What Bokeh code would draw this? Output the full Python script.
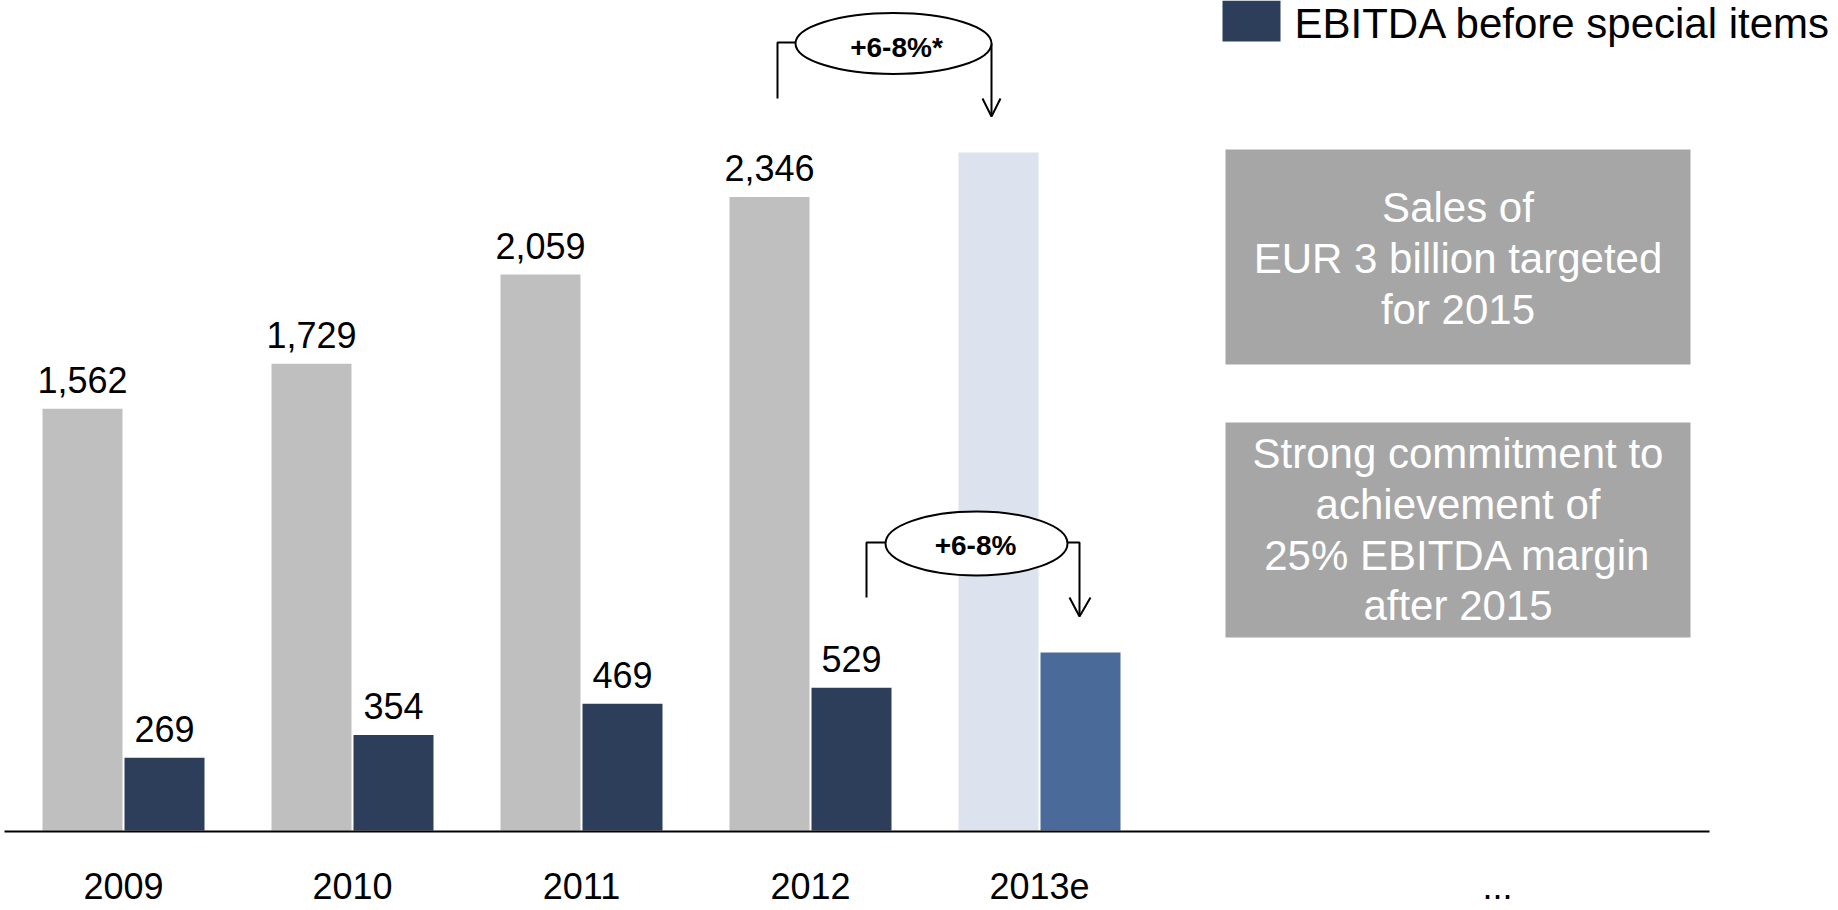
import numpy as np
from bokeh.plotting import figure
from bokeh.models import Range1d
from bokeh.core.properties import value
from bokeh.embed import file_html
from bokeh.resources import INLINE

# ---------------- data ----------------
years = ["2009", "2010", "2011", "2012", "2013e"]
sales = [1562, 1729, 2059, 2346, 2511]
ebitda = [269, 354, 469, 529, 659]
sales_labels = ["1,562", "1,729", "2,059", "2,346", ""]
ebitda_labels = ["269", "354", "469", "529", ""]
sales_colors = ["#bfbfbf", "#bfbfbf", "#bfbfbf", "#bfbfbf", "#dce3ee"]
ebitda_colors = ["#2c3e5a", "#2c3e5a", "#2c3e5a", "#2c3e5a", "#4a6b9a"]
legend_label = "EBITDA before special items"
box1_lines = ["Sales of", "EUR 3 billion targeted", "for 2015"]
box2_lines = ["Strong commitment to", "achievement of", "25% EBITDA margin", "after 2015"]
growth_sales = "+6-8%*"
growth_ebitda = "+6-8%"

# ---------------- layout helpers (page pixel -> data) ----------------
W, H = 1838, 908
GX0, GDX = 123.0, 229.0     # page-x of first group centre, group spacing
BASE, K = 830.0, 0.27       # page-y of baseline, px per unit
BL = 0.35                   # baseline correction (fraction of font size)


def xd(px):
    return (px - GX0) / GDX


def yd(py):
    return (BASE - py) / K


def tb(py, size):
    """data y for a text whose visual baseline should be at page-y py"""
    return yd(py - BL * size)


FONT = value("Liberation Sans")
OFF = 41.0 / GDX
BW = 80.0 / GDX

p = figure(width=W, height=H,
           x_range=Range1d(xd(0), xd(W)),
           y_range=Range1d(yd(H), yd(0)),
           output_backend="svg", toolbar_location=None,
           x_axis_type=None, y_axis_type=None,
           min_border=0, outline_line_color=None)
p.background_fill_color = "white"
p.border_fill_color = "white"

idx = np.arange(len(years))
sales_a = np.array(sales, dtype=float)
ebitda_a = np.array(ebitda, dtype=float)

# bars
p.vbar(x=idx - OFF, top=sales_a, bottom=0, width=BW, fill_color=sales_colors, line_color=None)
p.vbar(x=idx + OFF, top=ebitda_a, bottom=0, width=BW, fill_color=ebitda_colors, line_color=None)

# value labels (baseline 16px above bar top)
lab_off = (16 + BL * 36) / K
p.text(x=idx - OFF, y=sales_a + lab_off, text=sales_labels, text_align="center",
       text_baseline="alphabetic", text_font=FONT, text_font_size="36px", text_color="black")
p.text(x=idx + OFF, y=ebitda_a + lab_off, text=ebitda_labels, text_align="center",
       text_baseline="alphabetic", text_font=FONT, text_font_size="36px", text_color="black")

# baseline
p.segment(x0=[xd(4)], x1=[xd(1709)], y0=[yd(831)], y1=[yd(831)], line_color="black", line_width=2)

# category labels
p.text(x=idx, y=[tb(898, 36)] * len(years), text=years, text_align="center",
       text_baseline="alphabetic", text_font=FONT, text_font_size="36px", text_color="black")

# ellipsis at bottom right
p.text(x=[xd(1497)], y=[tb(898, 36)], text=["..."], text_align="center",
       text_baseline="alphabetic", text_font=FONT, text_font_size="36px", text_color="black")

# legend
p.quad(left=[xd(1222)], right=[xd(1280)], top=[yd(0)], bottom=[yd(41)],
       fill_color=ebitda_colors[0], line_color=None)
p.text(x=[xd(1294)], y=[tb(38, 42)], text=[legend_label], text_align="left",
       text_baseline="alphabetic", text_font=FONT, text_font_size="42px", text_color="black")

# grey message boxes
p.quad(left=[xd(1225), xd(1225)], right=[xd(1690), xd(1690)],
       top=[yd(149), yd(422)], bottom=[yd(364), yd(637)],
       fill_color="#a6a6a6", line_color=None)
cx = xd(1457.5)
p.text(x=[cx] * 3, y=[tb(222, 42), tb(273, 42), tb(324, 42)], text=box1_lines,
       text_align="center", text_baseline="alphabetic", text_font=FONT,
       text_font_size="42px", text_color="white")
p.text(x=[cx] * 4, y=[tb(468, 42), tb(519, 42), tb(570, 42), tb(620, 42)], text=box2_lines,
       text_align="center", text_baseline="alphabetic", text_font=FONT,
       text_font_size="42px", text_color="white")

# growth brackets
brk_x = [
    [777, 777, 795], [991, 991], [982, 991, 1000],
    [866, 866, 885], [1067, 1079, 1079], [1069, 1079, 1090],
]
brk_y = [
    [98, 42, 42], [43, 115], [98, 116, 98],
    [597, 542, 542], [542, 542, 615], [597, 616, 597],
]
p.multi_line(xs=[[xd(v) for v in s] for s in brk_x],
             ys=[[yd(v) for v in s] for s in brk_y],
             line_color="black", line_width=2)
p.ellipse(x=[xd(893), xd(976)], y=[yd(43), yd(543)], width=[196, 182], height=[61, 64],
          width_units="screen", height_units="screen",
          fill_color="white", line_color="black", line_width=2)
p.text(x=[xd(896), xd(975)], y=[tb(57, 28), tb(555, 28)], text=[growth_sales, growth_ebitda],
       text_align="center", text_baseline="alphabetic", text_font=FONT,
       text_font_size="28px", text_font_style="bold", text_color="black")

open("out.html", "w").write(file_html(p, INLINE))
